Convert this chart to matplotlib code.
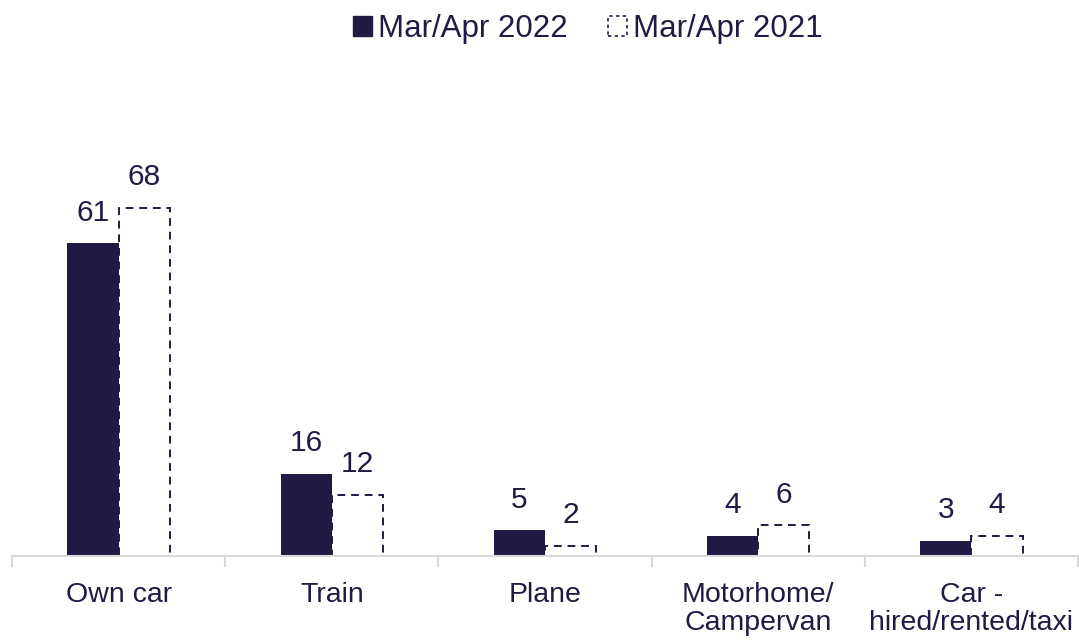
import numpy as np
import matplotlib
matplotlib.use("Agg")
import matplotlib.pyplot as plt
from matplotlib.patches import Patch

plt.rcParams['font.family'] = ['Liberation Sans', 'DejaVu Sans']

navy = "#201a44"
grey = "#d9d9d9"

categories = ["Own car", "Train", "Plane", "Motorhome/\nCampervan", "Car -\nhired/rented/taxi"]
vals_2022 = [61, 16, 5, 4, 3]
vals_2021 = [68, 12, 2, 6, 4]

fig = plt.figure(figsize=(10.79, 6.4), dpi=100)
ax = fig.add_axes([12/1079, 84/640, 1066/1079, 410/640])

x = np.arange(len(categories))
w = 0.24

b1 = ax.bar(x - w/2, vals_2022, w, color=navy, zorder=3)
b2 = ax.bar(x + w/2, vals_2021, w, facecolor="white", edgecolor=navy,
            linestyle=(0, (4, 3)), linewidth=1.4, zorder=2)

ax.bar_label(b1, padding=12, fontsize=21.5, color=navy)
ax.bar_label(b2, padding=12, fontsize=21.5, color=navy)

ax.set_xlim(-0.5, len(categories) - 0.5)
ax.set_ylim(0, 80)

for s in ["top", "right", "left"]:
    ax.spines[s].set_visible(False)
ax.spines["bottom"].set_color(grey)
ax.spines["bottom"].set_linewidth(1.5)
ax.spines["bottom"].set_zorder(5)
ax.set_yticks([])

ax.set_xticks(np.arange(len(categories) + 1) - 0.5)
ax.set_xticklabels([])
ax.tick_params(axis="x", which="major", length=8, width=1.5, color=grey)
ax.set_xticks(x, minor=True)
ax.set_xticklabels(categories, minor=True, fontsize=20.5, color=navy, linespacing=1.1)
ax.tick_params(axis="x", which="minor", length=0, pad=19)

handles = [Patch(facecolor=navy, edgecolor=navy),
           Patch(facecolor="white", edgecolor=navy, linestyle=(0, (2, 2)), linewidth=1.2)]
fig.legend(handles, ["Mar/Apr 2022", "Mar/Apr 2021"], loc="center",
           bbox_to_anchor=(588/1079, 1 - 29/640), ncol=2, frameon=False,
           fontsize=22.5, handlelength=0.6, handleheight=0.6,
           handletextpad=0.2, columnspacing=1.3, labelcolor=navy)

fig.savefig("out.png", dpi=100)
